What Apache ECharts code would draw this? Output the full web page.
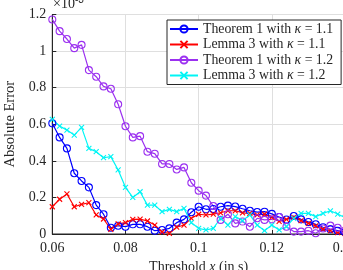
<!DOCTYPE html>
<html><head><meta charset="utf-8">
<script src="https://cdn.jsdelivr.net/npm/echarts@6/dist/echarts.min.js"></script>
<style>html,body{margin:0;padding:0;background:#fff}#c{width:343px;height:270px}</style>
</head><body><div id="c"></div>
<script>
// Threshold x (in s): 0.06 .. 0.14 step 0.002
const xValues = [0.060,0.062,0.064,0.066,0.068,0.070,0.072,0.074,0.076,0.078,0.080,0.082,0.084,0.086,0.088,0.090,0.092,0.094,0.096,0.098,0.100,0.102,0.104,0.106,0.108,0.110,0.112,0.114,0.116,0.118,0.120,0.122,0.124,0.126,0.128,0.130,0.132,0.134,0.136,0.138,0.140];
// Absolute error (x 1e-3)
const thm1k11 = [0.605,0.528,0.468,0.332,0.290,0.255,0.158,0.108,0.034,0.045,0.040,0.053,0.053,0.040,0.018,0.022,0.031,0.062,0.080,0.119,0.149,0.135,0.137,0.149,0.155,0.150,0.138,0.127,0.120,0.122,0.110,0.093,0.079,0.098,0.080,0.066,0.053,0.037,0.026,0.018,0.010];
const lem3k11 = [0.149,0.190,0.219,0.149,0.162,0.171,0.104,0.082,0.026,0.055,0.062,0.080,0.081,0.071,0.049,0.011,0.004,0.037,0.049,0.086,0.108,0.104,0.109,0.116,0.127,0.127,0.116,0.113,0.104,0.108,0.091,0.069,0.080,0.091,0.073,0.058,0.044,0.026,0.018,0.007,0.003];
const thm1k12 = [1.173,1.109,1.066,1.016,1.034,0.896,0.860,0.807,0.794,0.709,0.589,0.528,0.535,0.450,0.439,0.383,0.383,0.353,0.364,0.280,0.237,0.210,0.153,0.077,0.108,0.058,0.068,0.040,0.086,0.077,0.080,0.093,0.040,0.013,0.013,0.018,0.004,0.030,0.046,0.034,0.020];
const lem3k12 = [0.627,0.590,0.568,0.541,0.583,0.468,0.450,0.417,0.423,0.350,0.255,0.200,0.231,0.158,0.158,0.122,0.135,0.122,0.140,0.062,0.031,0.022,0.031,0.086,0.049,0.095,0.073,0.104,0.049,0.018,0.049,0.022,0.040,0.086,0.113,0.113,0.095,0.113,0.127,0.109,0.090];
const xTicks = [0.06,0.08,0.1,0.12,0.14];
const yTicks = [0,0.2,0.4,0.6,0.8,1,1.2];
const seriesNames = ['Theorem 1 with κ = 1.1','Lemma 3 with κ = 1.1','Theorem 1 with κ = 1.2','Lemma 3 with κ = 1.2'];

const FONT = '"Liberation Serif","DejaVu Serif",serif';
const cross = 'path://M0,0L10,10M10,0L0,10';
function pairs(ys){return xValues.map((x,i)=>[x,ys[i]]);}
function mk(name, ys, color, isCircle){
  return {
    name, type:'line', data:pairs(ys), clip:true,
    symbol: isCircle ? 'circle' : cross,
    symbolSize: isCircle ? 7 : 5,
    showAllSymbol:true,
    lineStyle:{color, width:1.2},
    itemStyle:{color: isCircle ? 'rgba(0,0,0,0)' : color, borderColor:color, borderWidth:1.1},
    emphasis:{disabled:true}, animation:false
  };
}
const chart = echarts.init(document.getElementById('c'), null, {renderer:'canvas'});
const axisCol = '#262626';
chart.setOption({
  animation:false,
  backgroundColor:'#fff',
  grid:{left:52.3, right:-2, top:14.5, bottom:36, show:true, borderColor:axisCol, borderWidth:1, outerBoundsMode:'none', containLabel:false},
  xAxis:{type:'value', min:xTicks[0], max:xTicks[xTicks.length-1], interval:0.02,
    axisLine:{show:true, lineStyle:{color:axisCol, width:1}},
    axisTick:{show:true, inside:true, length:4, lineStyle:{color:axisCol}},
    splitLine:{show:true, lineStyle:{color:'#dfdfdf', width:1}},
    axisLabel:{color:axisCol, fontFamily:FONT, fontSize:14, margin:7, hideOverlap:false,
      formatter:v=>{const t=xTicks.find(k=>Math.abs(k-v)<1e-9);return t===undefined?'':String(t);}},
    name:'{n|Threshold }{i|x}{n| (in s)}', nameLocation:'middle', nameGap:24,
    nameTextStyle:{rich:{n:{fontFamily:FONT,fontSize:14,color:axisCol},i:{fontFamily:FONT,fontSize:14,fontStyle:'italic',color:axisCol}}}
  },
  yAxis:{type:'value', min:yTicks[0], max:yTicks[yTicks.length-1], interval:0.2,
    axisLine:{show:true, lineStyle:{color:axisCol, width:1}},
    axisTick:{show:true, inside:true, length:4, lineStyle:{color:axisCol}},
    splitLine:{show:true, lineStyle:{color:'#dfdfdf', width:1}},
    axisLabel:{color:axisCol, fontFamily:FONT, fontSize:14, margin:6,
      formatter:v=>{const t=yTicks.find(k=>Math.abs(k-v)<1e-9);return t===undefined?'':String(t);}},
    name:'Absolute Error', nameLocation:'middle', nameGap:29, nameRotate:90,
    nameTextStyle:{fontFamily:FONT, fontSize:14.5, color:axisCol}
  },
  legend:{
    data:seriesNames, orient:'vertical', left:167, top:20,
    itemWidth:28, itemHeight:9, itemGap:1.5,
    padding:[2,8,2,2],
    backgroundColor:'#fff', borderColor:axisCol, borderWidth:1,
    textStyle:{fontFamily:FONT, fontSize:13.8, color:axisCol,
      rich:{i:{fontFamily:FONT,fontSize:13.8,fontStyle:'italic',color:axisCol}}},
    formatter:function(n){const p=n.split('κ');return p[0]+'{i|κ}'+p[1];}
  },
  graphic:[{type:'text', left:53, top:-5,
    style:{text:'×10{s|-3}', rich:{s:{fontSize:10,verticalAlign:'top', padding:[0,0,8,0]}}, fontFamily:FONT, fontSize:14, fill:axisCol}}],
  series:[
    mk(seriesNames[0], thm1k11, '#0000ff', true),
    mk(seriesNames[1], lem3k11, '#ff0000', false),
    mk(seriesNames[2], thm1k12, '#9b30f0', true),
    mk(seriesNames[3], lem3k12, '#00f5f5', false)
  ]
});
</script></body></html>
